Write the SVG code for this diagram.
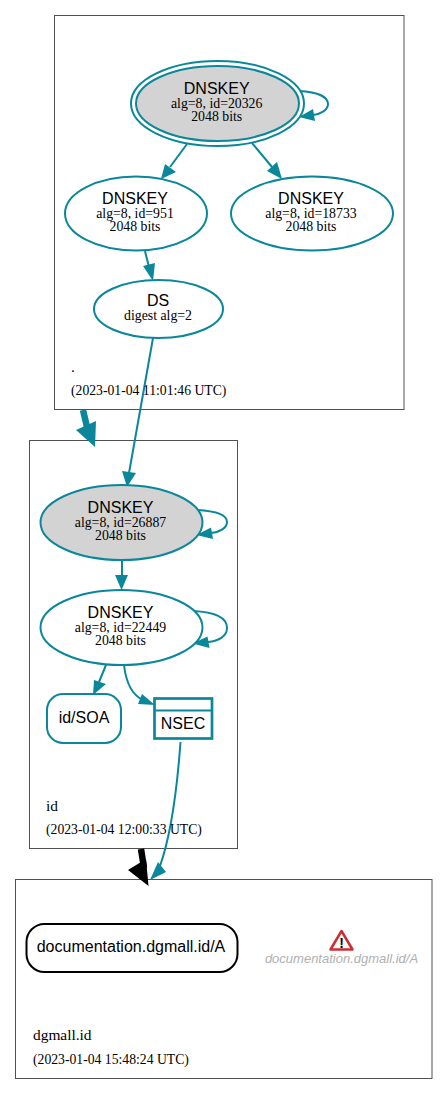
<svg xmlns="http://www.w3.org/2000/svg" width="448" height="1094" viewBox="0 0 448 1094">
<style>
.c{fill:#fff;stroke:#505050;stroke-width:1}
.n{fill:#fff;stroke:#0a879a;stroke-width:2}
.k{fill:#d3d3d3}
.t{stroke-width:2.700px}
.e{fill:none;stroke:#0a879a;stroke-width:2}
.h{fill:#0a879a;stroke:none}
text{fill:#000;text-anchor:middle}
.a{font-family:"Liberation Sans",Arial,sans-serif;font-size:16px}
.s{font-family:"Liberation Serif","Times New Roman",serif;font-size:13.800px}
.l{font-family:"Liberation Serif","Times New Roman",serif;text-anchor:start;font-size:13.700px}
.b{font-size:15.400px}
</style>
<g id="clusters">
<rect class="c" x="54.500" y="15.500" width="349.500" height="394"/>
<rect class="c" x="29.500" y="440.500" width="208" height="408"/>
<rect class="c" x="15.500" y="879.500" width="416.500" height="199"/>
</g>
<g id="connectors">
<path class="e" d="M299 91C318 92 328 97 328 104C328 110 321 114 313 115"/><polygon class="h" points="299,117 313,109 315,121"/>
<path class="e" d="M187 144L170 167"/><polygon class="h" points="161,179 165,164 176,172"/>
<path class="e" d="M252 143L272 167"/><polygon class="h" points="282,179 267,171 277,162"/>
<path class="e" d="M145 251L149 267"/><polygon class="h" points="153,281 143,266 155,263"/>
<path class="e" d="M153 338L129 473"/><polygon class="h" points="127,487 122,471 136,473"/>
<path d="M83 410L87 427" fill="none" stroke="#0a879a" stroke-width="6.500"/><polygon class="h" points="95,447 76,430 96,421"/>
<path class="e" d="M197 510C216 511 227 515 227 522C227 528 220 532 211 533"/><polygon class="h" points="196.500,535 211,527.500 213,539"/>
<path class="e" d="M122 560L122 576"/><polygon class="h" points="121.500,590 115,575 128,575"/>
<path class="e" d="M193 611C215 612 227 618 227 628C227 636 219 641 208 642"/><polygon class="h" points="192.500,643.500 207.500,636.500 209.500,648"/>
<path class="e" d="M106 665L99 682"/><polygon class="h" points="93,695 94,680 106,684"/>
<path class="e" d="M124 665C126 682 132 695 143 700"/><polygon class="h" points="155,705 142,694 138,704"/>
<path class="e" d="M180.500 742C177 790 171 835 160 866"/><polygon class="h" points="150,880 158,862 166,872"/>
<path d="M141 849L144 868" fill="none" stroke="#000" stroke-width="6.500"/><polygon points="148.500,886 128,870 146,859"/>
</g>
<g id="root-ksk"><ellipse class="n" cx="217.500" cy="103.500" rx="86.500" ry="42.500"/><ellipse class="n k" cx="217.500" cy="103.500" rx="81.500" ry="37.500"/><text class="a" x="216.700" y="94">DNSKEY</text><text class="s" x="216.700" y="108">alg=8, id=20326</text><text class="s" x="216.700" y="121">2048 bits</text></g>
<g id="root-951"><ellipse class="n" cx="136" cy="213.500" rx="71" ry="37"/><text class="a" x="135" y="204">DNSKEY</text><text class="s" x="135" y="218">alg=8, id=951</text><text class="s" x="135" y="231">2048 bits</text></g>
<g id="root-18733"><ellipse class="n" cx="312" cy="213.500" rx="81" ry="37"/><text class="a" x="311" y="204">DNSKEY</text><text class="s" x="311" y="218">alg=8, id=18733</text><text class="s" x="311" y="231">2048 bits</text></g>
<g id="root-ds"><ellipse class="n" cx="158.500" cy="309" rx="64.500" ry="29"/><text class="a" x="158" y="306">DS</text><text class="s" x="158" y="320">digest alg=2</text></g>
<g id="root-label"><text class="l b" x="71" y="372">.</text><text class="l" x="71" y="395">(2023-01-04 11:01:46 UTC)</text></g>
<g id="id-ksk"><ellipse class="n k" cx="121.500" cy="522.500" rx="81" ry="37.500"/><text class="a" x="120.500" y="513">DNSKEY</text><text class="s" x="120.500" y="527">alg=8, id=26887</text><text class="s" x="120.500" y="540">2048 bits</text></g>
<g id="id-zsk"><ellipse class="n" cx="121.500" cy="627.500" rx="81" ry="37.500"/><text class="a" x="120.500" y="618">DNSKEY</text><text class="s" x="120.500" y="632">alg=8, id=22449</text><text class="s" x="120.500" y="645">2048 bits</text></g>
<g id="id-soa"><rect class="n" x="47" y="694" width="74" height="49" rx="16"/><text class="a" x="84" y="723">id/SOA</text></g>
<g id="id-nsec"><rect class="n t" x="154.500" y="698.500" width="57.500" height="40"/><path class="e t" d="M154.500 710.500H212"/><text class="a" x="183" y="729">NSEC</text></g>
<g id="id-label"><text class="l b" x="46" y="811">id</text><text class="l" x="46" y="834">(2023-01-04 12:00:33 UTC)</text></g>
<g id="rrset"><rect x="26.500" y="924" width="211" height="48" rx="18" fill="#fff" stroke="#000" stroke-width="2"/><text class="a" x="131" y="952">documentation.dgmall.id/A</text></g>
<g id="warning"><path d="M341.500 931L352.500 949.500H330.500Z" fill="#fafafa" stroke="#cc2f33" stroke-width="2.500" stroke-linejoin="round"/><text x="341.500" y="948" font-family="Liberation Sans,sans-serif" font-size="14" font-weight="bold">!</text><text x="341.500" y="963" font-family="Liberation Sans,Arial,sans-serif" font-size="13" font-style="italic" style="fill:#b0b0b0">documentation.dgmall.id/A</text></g>
<g id="dgmall-label"><text class="l b" x="33" y="1040">dgmall.id</text><text class="l" x="33" y="1064">(2023-01-04 15:48:24 UTC)</text></g>
</svg>
